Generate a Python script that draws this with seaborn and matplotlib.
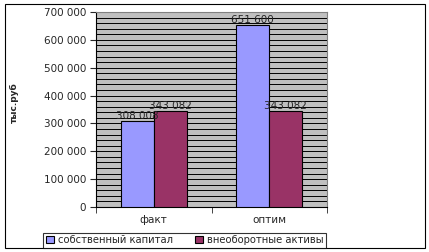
import matplotlib
matplotlib.use("Agg")
import matplotlib.pyplot as plt
import seaborn as sns
import pandas as pd
from matplotlib.patches import Rectangle
from matplotlib.ticker import FuncFormatter, MultipleLocator

categories = ["факт", "оптим"]
series = ["собственный капитал", "внеоборотные активы"]
equity = [308008, 651600]
noncurrent = [343082, 343082]
value_labels_equity = ["308 008", "651 600"]
value_labels_noncurrent = ["343 082", "343 082"]
y_label = "тыс.руб"

df = pd.DataFrame({
    "cat": categories * 2,
    "series": [series[0]] * 2 + [series[1]] * 2,
    "value": equity + noncurrent,
})

sns.set_style("white")
plt.rcParams["font.family"] = ["DejaVu Sans"]

FS = 7.5
fig = plt.figure(figsize=(4.29, 2.52), dpi=100)
ax = fig.add_axes([96/429, 1-207/252, (327-96)/429, (207-12)/252])
ax.set_facecolor("#C0C0C0")

sns.barplot(data=df, x="cat", y="value", hue="series",
            palette=["#9999FF", "#993366"], saturation=1, width=0.57,
            edgecolor="black", linewidth=0.8, ax=ax, legend=True, zorder=3)

ax.set_ylim(0, 700000)
ax.set_xlim(-0.5, 1.5)
ax.yaxis.set_major_locator(MultipleLocator(100000))
ax.yaxis.set_minor_locator(MultipleLocator(20000))
ax.yaxis.set_major_formatter(FuncFormatter(lambda v, p: f"{int(v):,}".replace(",", " ")))
ax.grid(True, axis="y", which="both", color="black", linewidth=0.7, zorder=1)
ax.set_axisbelow(True)
ax.tick_params(axis="y", which="major", length=4, direction="out", labelsize=FS, left=True, pad=3)
ax.tick_params(axis="y", which="minor", length=0)
ax.set_xticks([0, 1])
ax.set_xticklabels(categories, fontsize=FS)
ax.tick_params(axis="x", which="major", length=0, pad=6)
ax.set_xticks([-0.5, 0.5, 1.5], minor=True)
ax.tick_params(axis="x", which="minor", length=4, direction="out", bottom=True)
ax.set_xlabel("")
ax.set_ylabel(y_label, fontsize=6.5, fontweight="bold")
ax.yaxis.set_label_coords(-0.333, 0.533)

for s in ["top", "right"]:
    ax.spines[s].set_color("#808080")
    ax.spines[s].set_linewidth(0.8)
for s in ["left", "bottom"]:
    ax.spines[s].set_color("black")
    ax.spines[s].set_linewidth(0.8)

for cont, labs in zip(ax.containers, [value_labels_equity, value_labels_noncurrent]):
    ax.bar_label(cont, labels=labs, fontsize=FS, padding=0, zorder=5)

handles, lbls = ax.get_legend_handles_labels()
ax.legend_.remove()
leg = fig.legend(handles, lbls, loc="center", bbox_to_anchor=(184.5/429, 1-240/252),
                 ncol=2, fontsize=7.2, frameon=True, fancybox=False, edgecolor="black",
                 handlelength=0.8, handleheight=0.8, handletextpad=0.4, columnspacing=2.2,
                 borderpad=0.25, borderaxespad=0)
leg.get_frame().set_linewidth(0.8)

fig.patches.append(Rectangle((5/429, 4/252), 420/429, 244/252, transform=fig.transFigure,
                             fill=False, edgecolor="black", linewidth=0.8))

fig.savefig("out.png", dpi=100, facecolor="white")
